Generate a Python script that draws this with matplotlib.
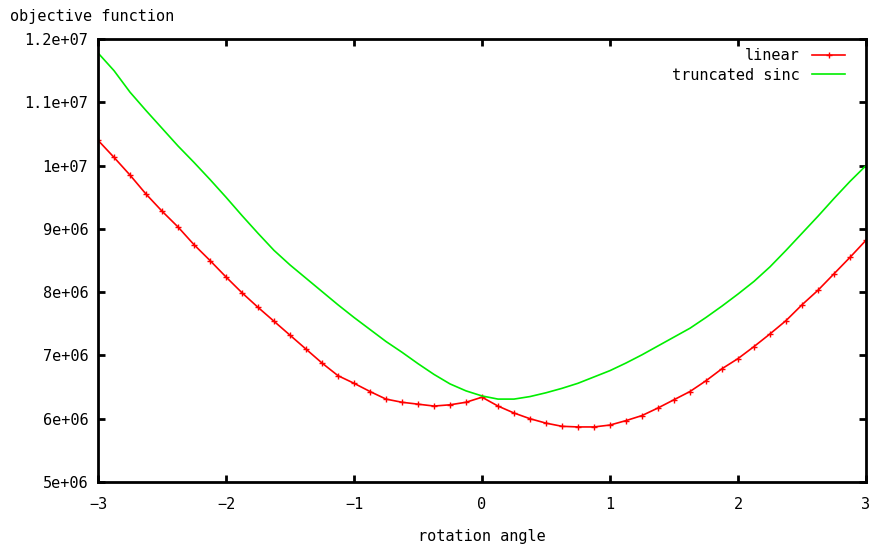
import numpy as np
import matplotlib
matplotlib.use("Agg")
import matplotlib.pyplot as plt

# rotation angle grid (step 0.125)
angle = np.arange(-3.0, 3.0001, 0.125)

linear = [10.40, 10.13, 9.85, 9.55, 9.28, 9.03, 8.75, 8.50, 8.24, 7.99,
          7.76, 7.54, 7.32, 7.10, 6.88, 6.68, 6.56, 6.43, 6.31, 6.26,
          6.23, 6.20, 6.22, 6.26, 6.34, 6.20, 6.09, 6.00, 5.93, 5.88,
          5.87, 5.87, 5.90, 5.97, 6.05, 6.17, 6.30, 6.43, 6.60, 6.79,
          6.95, 7.14, 7.34, 7.55, 7.80, 8.03, 8.29, 8.55, 8.82]

sinc = [11.78, 11.50, 11.16, 10.87, 10.59, 10.31, 10.05, 9.78, 9.50, 9.21,
        8.93, 8.66, 8.43, 8.22, 8.01, 7.80, 7.60, 7.41, 7.22, 7.05,
        6.87, 6.70, 6.55, 6.44, 6.36, 6.31, 6.31, 6.35, 6.41, 6.48,
        6.56, 6.66, 6.76, 6.88, 7.01, 7.15, 7.29, 7.43, 7.60, 7.78,
        7.97, 8.17, 8.40, 8.66, 8.93, 9.20, 9.48, 9.75, 10.00]

linear = np.array(linear) * 1e6
sinc = np.array(sinc) * 1e6

xticks = [-3, -2, -1, 0, 1, 2, 3]
yticks = [5e6, 6e6, 7e6, 8e6, 9e6, 1e7, 1.1e7, 1.2e7]
ytick_labels = ["5e+06", "6e+06", "7e+06", "8e+06", "9e+06", "1e+07", "1.1e+07", "1.2e+07"]

plt.rcParams['font.family'] = ['DejaVu Sans Mono']
plt.rcParams['font.size'] = 11

fig = plt.figure(figsize=(8.8, 5.52), dpi=100)
ax = fig.add_axes([98 / 880, 1 - 482 / 552, 768 / 880, 443 / 552])

ax.plot(angle, linear, color='#ff0000', linewidth=1.2, marker='+', markersize=4.5,
        markeredgewidth=1, label='linear')
ax.plot(angle, sinc, color='#00ee00', linewidth=1.2, label='truncated sinc')

ax.set_xlim(-3, 3)
ax.set_ylim(5e6, 1.2e7)
ax.set_xticks(xticks)
ax.set_xticklabels([str(t).replace('-', '\u2212') for t in xticks])
ax.set_yticks(yticks)
ax.set_yticklabels(ytick_labels)

ax.tick_params(direction='in', length=5, width=2, top=True, right=True)
ax.tick_params(axis='x', pad=11)
ax.tick_params(axis='y', pad=7)
for s in ax.spines.values():
    s.set_linewidth(2)

ax.set_xlabel("rotation angle", labelpad=12)
fig.text(10 / 880, 1 - 16 / 552, "objective function", ha='left', va='center')

leg = ax.legend(loc='upper right', frameon=False, markerfirst=False,
                handlelength=2.2, borderaxespad=0.2, labelspacing=0.3,
                bbox_to_anchor=(0.985, 1.0))
for t in leg.get_texts():
    t.set_ha('right')
leg._legend_box.align = 'right'

plt.savefig('out.png', dpi=100)
plt.close()
